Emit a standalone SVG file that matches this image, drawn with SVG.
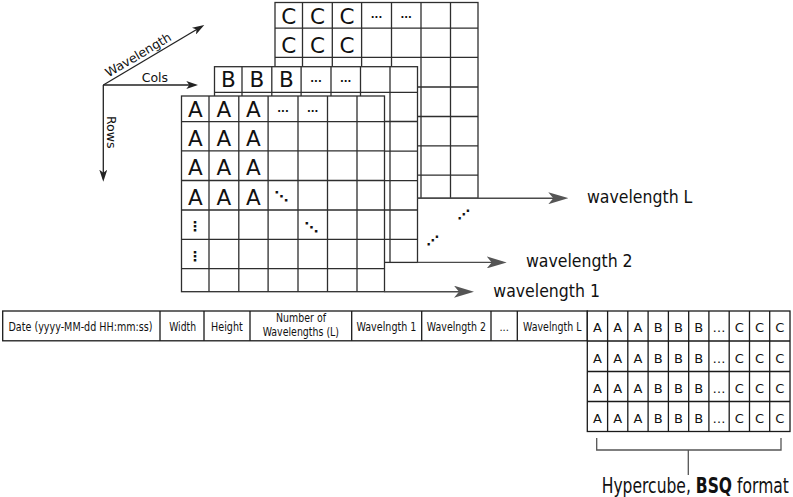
<svg xmlns="http://www.w3.org/2000/svg" xmlns:xlink="http://www.w3.org/1999/xlink" width="793" height="497" viewBox="0 0 793 497">
<style>
text{font-family:"DejaVu Sans","Liberation Sans",sans-serif;fill:#111}
.g{fill:#fff;stroke:#2e2e2e;stroke-width:1.3}
.L{font-size:21.5px;text-anchor:middle}
.d{font-size:10px;font-weight:bold;text-anchor:middle}
.m{font-size:14px;font-weight:bold;text-anchor:middle}
.c{fill:#fff;stroke:#1a1a1a;stroke-width:1.3}
.h{font-size:12.5px;text-anchor:middle}
.b{font-size:13px;text-anchor:middle}
.ax{stroke:#222;stroke-width:1.3;fill:none}
.wl{stroke:#4a4a4a;stroke-width:1.4;fill:none}
.wt{font-size:17.5px}
.at{font-size:12.5px}
.br{stroke:#555;stroke-width:1.3;fill:none}
</style>
<defs>
<g id="grid" class="g">
<rect x="0" y="0" width="203" height="195.7"/>
<path d="M27.5 0V195.7M57.3 0V195.7M86.6 0V195.7M116.5 0V195.7M146 0V195.7M175.5 0V195.7M0 25.7H203M0 54.8H203M0 84.5H203M0 114H203M0 143.3H203M0 172.6H203"/>
</g>
<marker id="ah" markerUnits="userSpaceOnUse" viewBox="0 0 12 8" refX="9" refY="4" markerWidth="12" markerHeight="8" orient="auto"><path d="M0 0L12 4L0 8L3 4z" fill="#222"/></marker>
<marker id="bh" markerUnits="userSpaceOnUse" viewBox="0 0 20 12" refX="16" refY="6" markerWidth="20" markerHeight="12" orient="auto"><path d="M0 0L20 6L0 12L5 6z" fill="#555"/></marker>
</defs>

<g id="band-C" transform="translate(275,2.5)">
<use xlink:href="#grid"/>
<text class="L" x="13.75" y="21">C</text><text class="L" x="42.4" y="21">C</text><text class="L" x="71.95" y="21">C</text>
<text class="L" x="13.75" y="50">C</text><text class="L" x="42.4" y="50">C</text><text class="L" x="71.95" y="50">C</text>
<text class="d" x="101.5" y="15.5">...</text><text class="d" x="131.2" y="15.5">...</text>
</g>

<g id="band-B" transform="translate(214.5,66.7)">
<use xlink:href="#grid"/>
<text class="L" x="13.75" y="20.5">B</text><text class="L" x="42.4" y="20.5">B</text><text class="L" x="71.95" y="20.5">B</text>
<text class="d" x="101.5" y="15.5">...</text><text class="d" x="131.2" y="15.5">...</text>
</g>

<g id="band-A" transform="translate(181.5,96)">
<use xlink:href="#grid"/>
<text class="L" x="13.75" y="21.3">A</text><text class="L" x="42.4" y="21.3">A</text><text class="L" x="71.95" y="21.3">A</text>
<text class="L" x="13.75" y="50">A</text><text class="L" x="42.4" y="50">A</text><text class="L" x="71.95" y="50">A</text>
<text class="L" x="13.75" y="79">A</text><text class="L" x="42.4" y="79">A</text><text class="L" x="71.95" y="79">A</text>
<text class="L" x="13.75" y="109">A</text><text class="L" x="42.4" y="109">A</text><text class="L" x="71.95" y="109">A</text>
<text class="d" x="101.5" y="15.5">...</text><text class="d" x="131.2" y="15.5">...</text>
<text class="m" x="100" y="104.5">⋱</text>
<text class="m" x="130" y="135.5">⋱</text>
<text class="m" x="13.5" y="135">⋮</text>
<text class="m" x="13.5" y="165">⋮</text>
</g>

<g id="gap-dots">
<text class="m" x="464" y="219" style="font-size:13px">⋰</text>
<text class="m" x="433" y="245" style="font-size:13px">⋰</text>
</g>

<g id="connectors">
<path class="ax" d="M103.3 85V178.7" marker-end="url(#ah)"/>
<path class="ax" d="M103.3 85H195.3" marker-end="url(#ah)"/>
<path class="ax" d="M103.3 85L201.7 26.5" marker-end="url(#ah)"/>
<path class="wl" d="M417.5 198.2H564.3" marker-end="url(#bh)"/>
<path class="wl" d="M417.5 262.4H502.7" marker-end="url(#bh)"/>
<path class="wl" d="M384.5 291.7H470" marker-end="url(#bh)"/>
</g>

<g id="axis-labels">
<text class="at" x="141.7" y="81.5">Cols</text>
<text class="at" transform="translate(107,116) rotate(90)">Rows</text>
<text class="at" transform="translate(108.5,77.5) rotate(-30.7)">Wavelength</text>
</g>

<g id="wavelength-labels">
<text class="wt" transform="translate(587,203) scale(0.9,1)">wavelength L</text>
<text class="wt" transform="translate(526,267) scale(0.9,1)">wavelength 2</text>
<text class="wt" transform="translate(493.3,296.5) scale(0.9,1)">wavelength 1</text>
</g>

<g id="header">
<rect class="c" x="2.7" y="311" width="584.6" height="29.8"/>
<path class="c" d="M160 311V340.8M204 311V340.8M250 311V340.8M351.7 311V340.8M421.7 311V340.8M491 311V340.8M517.3 311V340.8"/>
<text class="h" transform="translate(80.5,331) scale(0.767,1)">Date (yyyy-MM-dd HH:mm:ss)</text>
<text class="h" transform="translate(182.6,331) scale(0.74,1)">Width</text>
<text class="h" transform="translate(226.9,331) scale(0.767,1)">Height</text>
<text class="h" transform="translate(301,322.3) scale(0.82,1)" style="font-size:11.5px">Number of</text>
<text class="h" transform="translate(300.8,336.2) scale(0.82,1)" style="font-size:11.5px">Wavelengths (L)</text>
<text class="h" transform="translate(386.4,331) scale(0.766,1)">Wavelngth 1</text>
<text class="h" transform="translate(456.4,331) scale(0.755,1)">Wavelngth 2</text>
<text class="h" x="504.2" y="331" style="font-size:10px">...</text>
<text class="h" transform="translate(552.2,331) scale(0.755,1)">Wavelngth L</text>
</g>

<g id="bsq">
<rect class="c" x="587.3" y="311" width="202.7" height="120.5"/>
<path class="c" d="M607.6 311V431.5M627.8 311V431.5M648.1 311V431.5M668.4 311V431.5M688.7 311V431.5M708.9 311V431.5M729.2 311V431.5M749.5 311V431.5M769.7 311V431.5M587.3 341H790M587.3 371.5H790M587.3 401.5H790"/>
<g id="bsq-r1">
<text class="b" x="597.4" y="332">A</text><text class="b" x="617.7" y="332">A</text><text class="b" x="638" y="332">A</text><text class="b" x="658.2" y="332">B</text><text class="b" x="678.5" y="332">B</text><text class="b" x="698.8" y="332">B</text><text class="b" x="719" y="332">…</text><text class="b" x="739.3" y="332">C</text><text class="b" x="759.6" y="332">C</text><text class="b" x="779.9" y="332">C</text>
</g>
<g id="bsq-r2">
<text class="b" x="597.4" y="362.5">A</text><text class="b" x="617.7" y="362.5">A</text><text class="b" x="638" y="362.5">A</text><text class="b" x="658.2" y="362.5">B</text><text class="b" x="678.5" y="362.5">B</text><text class="b" x="698.8" y="362.5">B</text><text class="b" x="719" y="362.5">…</text><text class="b" x="739.3" y="362.5">C</text><text class="b" x="759.6" y="362.5">C</text><text class="b" x="779.9" y="362.5">C</text>
</g>
<g id="bsq-r3">
<text class="b" x="597.4" y="392.5">A</text><text class="b" x="617.7" y="392.5">A</text><text class="b" x="638" y="392.5">A</text><text class="b" x="658.2" y="392.5">B</text><text class="b" x="678.5" y="392.5">B</text><text class="b" x="698.8" y="392.5">B</text><text class="b" x="719" y="392.5">…</text><text class="b" x="739.3" y="392.5">C</text><text class="b" x="759.6" y="392.5">C</text><text class="b" x="779.9" y="392.5">C</text>
</g>
<g id="bsq-r4">
<text class="b" x="597.4" y="422.5">A</text><text class="b" x="617.7" y="422.5">A</text><text class="b" x="638" y="422.5">A</text><text class="b" x="658.2" y="422.5">B</text><text class="b" x="678.5" y="422.5">B</text><text class="b" x="698.8" y="422.5">B</text><text class="b" x="719" y="422.5">…</text><text class="b" x="739.3" y="422.5">C</text><text class="b" x="759.6" y="422.5">C</text><text class="b" x="779.9" y="422.5">C</text>
</g>
</g>

<g id="bracket">
<path class="br" d="M596.7 438V450H781V438M688.3 450V475"/>
<text transform="translate(601.7,493) scale(0.741,1)" style="font-size:21px">Hypercube, <tspan font-weight="bold">BSQ</tspan> format</text>
</g>
</svg>
